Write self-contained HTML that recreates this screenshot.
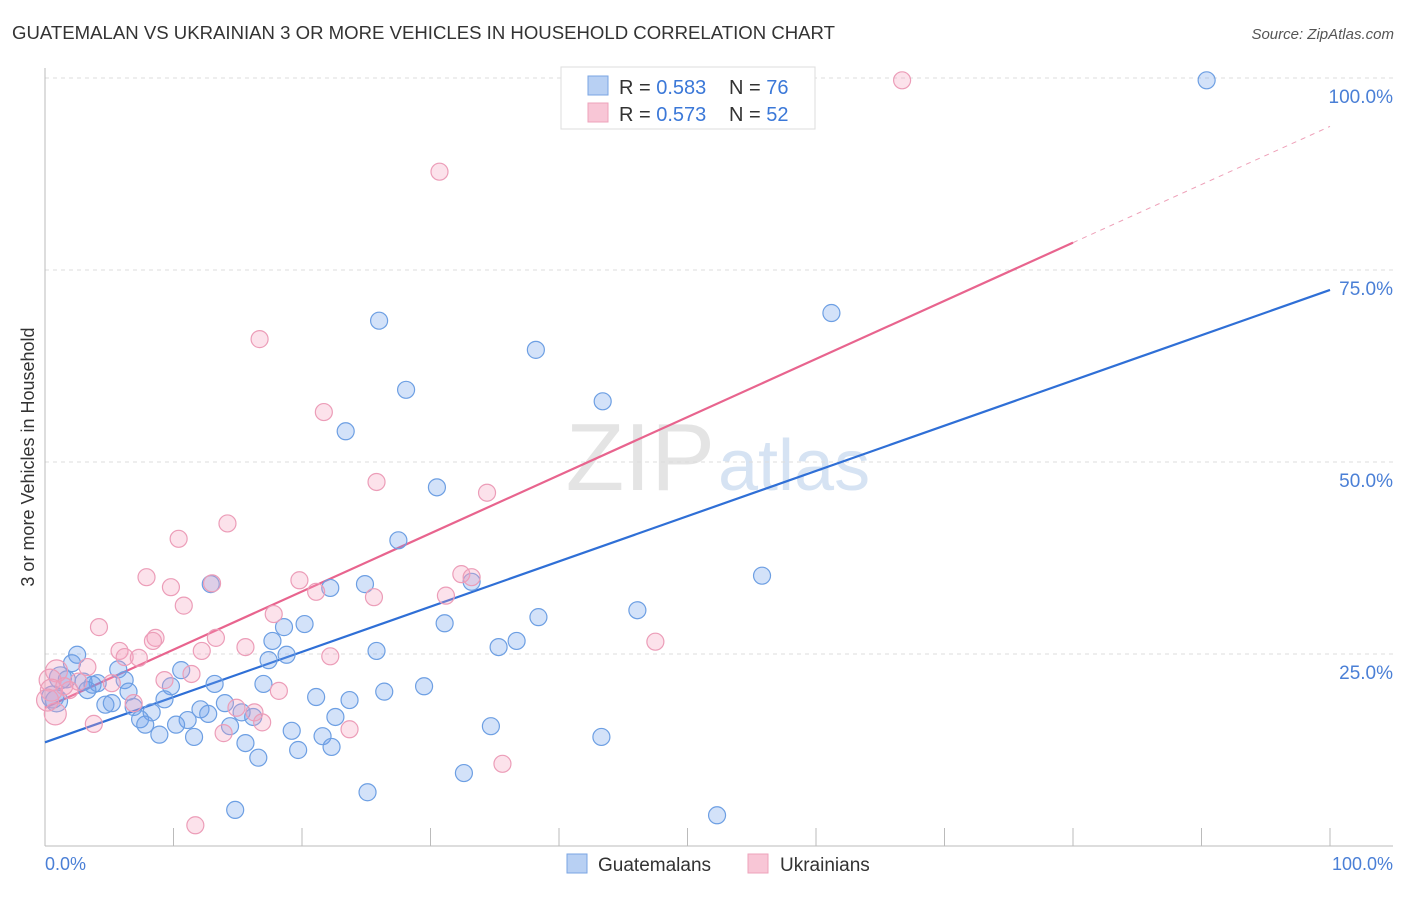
<!DOCTYPE html>
<html><head><meta charset="utf-8"><style>
body{margin:0;background:#fff;font-family:"Liberation Sans",sans-serif;}
svg text{font-family:"Liberation Sans",sans-serif;}
</style></head><body>
<svg id="chart" width="1406" height="892" xmlns="http://www.w3.org/2000/svg">
<text x="12" y="39" font-size="18" fill="#333" textLength="823" lengthAdjust="spacingAndGlyphs">GUATEMALAN VS UKRAINIAN 3 OR MORE VEHICLES IN HOUSEHOLD CORRELATION CHART</text>
<text x="1394" y="39" font-size="15" fill="#555" text-anchor="end" font-style="italic">Source: ZipAtlas.com</text>
<text x="715" y="490" font-size="96" fill="#e4e4e4" text-anchor="end" font-family="Liberation Serif">ZIP</text>
<text x="718" y="490" font-size="72" fill="#d6e3f3">atlas</text>
<text transform="translate(34,457) rotate(-90)" font-size="18" fill="#333" text-anchor="middle">3 or more Vehicles in Household</text>
<g id="grid"></g><g id="ticks"></g><g id="lines"></g><g id="pts"></g>
<g>
<rect x="561" y="67" width="254" height="62" fill="#fff" stroke="#ddd"/>
<rect x="588" y="76" width="20" height="19" fill="#b8d0f3" stroke="#7aa5e3"/>
<rect x="588" y="103" width="20" height="19" fill="#f8c6d6" stroke="#eea3bb"/>
<text x="619" y="94" font-size="20" fill="#333">R = <tspan fill="#3b78d8">0.583</tspan></text>
<text x="729" y="94" font-size="20" fill="#333">N = <tspan fill="#3b78d8">76</tspan></text>
<text x="619" y="121" font-size="20" fill="#333">R = <tspan fill="#3b78d8">0.573</tspan></text>
<text x="729" y="121" font-size="20" fill="#333">N = <tspan fill="#3b78d8">52</tspan></text>
</g>
<g>
<rect x="567" y="854" width="20" height="19" fill="#b8d0f3" stroke="#7aa5e3"/>
<text x="598" y="871" font-size="19" fill="#333">Guatemalans</text>
<rect x="748" y="854" width="20" height="19" fill="#f8c6d6" stroke="#eea3bb"/>
<text x="780" y="871" font-size="19" fill="#333">Ukrainians</text>
</g>
<text x="45" y="870" font-size="18" fill="#4a7fd6">0.0%</text>
<text x="1393" y="870" font-size="18" fill="#4a7fd6" text-anchor="end">100.0%</text>
</svg>
<script>
const yTicks=[25,50,75,100];
const yTickLabels=["25.0%","50.0%","75.0%","100.0%"];
const blueX=[90.4,26.0,38.2,28.1,43.4,23.4,30.5,61.2,27.5,55.8,12.9,24.9,22.2,33.2,46.1,38.4,31.1,20.2,18.6,36.7,35.3,17.7,25.8,18.8,17.4,2.5,2.1,5.7,10.6,1.2,1.7,4.1,6.2,9.8,13.2,29.5,26.4,17.0,6.5,9.3,14.0,21.1,23.7,0.6,4.7,5.2,6.9,12.1,8.3,12.7,15.3,16.2,7.4,22.6,7.8,11.1,10.2,14.4,19.2,34.7,8.9,11.6,21.6,43.3,15.6,19.7,22.3,16.6,32.6,25.1,14.8,52.3,3.0,3.7,3.3,0.9];
const blueY=[99.7,68.4,64.6,59.4,57.9,54.0,46.7,69.4,39.8,35.2,34.1,34.1,33.6,34.4,30.7,29.8,29.0,28.9,28.5,26.7,25.9,26.7,25.4,24.9,24.2,24.9,23.8,23.0,22.9,21.9,21.7,21.2,21.6,20.8,21.1,20.8,20.1,21.1,20.1,19.1,18.6,19.4,19.0,19.4,18.4,18.6,18.1,17.8,17.4,17.2,17.4,16.8,16.5,16.8,15.8,16.4,15.8,15.6,15.0,15.6,14.5,14.2,14.3,14.2,13.4,12.5,12.9,11.5,9.5,7.0,4.7,4.0,21.4,21.0,20.3,18.9];
const pinkX=[66.7,30.7,16.7,21.7,25.8,34.4,14.2,10.4,7.9,9.8,13.0,10.8,19.8,21.1,32.4,33.2,25.6,31.2,17.8,4.2,8.6,8.4,13.3,15.6,5.8,12.2,6.2,7.3,22.2,47.5,3.3,0.9,2.6,9.3,11.4,0.4,5.2,18.2,6.9,16.3,14.9,16.9,3.8,23.7,13.9,35.6,11.7,0.8,0.5,1.9,1.5,0.2];
const pinkY=[99.7,87.8,66.0,56.5,47.4,46.0,42.0,40.0,35.0,33.7,34.2,31.3,34.6,33.1,35.4,35.0,32.4,32.6,30.2,28.5,27.1,26.7,27.1,25.9,25.4,25.4,24.6,24.5,24.7,26.6,23.3,22.8,21.4,21.6,22.4,21.6,21.2,20.2,18.6,17.4,18.0,16.1,15.9,15.2,14.7,10.7,2.7,17.2,20.3,20.3,20.8,19.0];
const blueFit=[13.5,72.4];
const pinkFit=[18.0,93.7];
const pinkSolidEnd=80;
const NS="http://www.w3.org/2000/svg";
const X=v=>45+v*12.85, Y=v=>846-v*7.68;
function mk(t,a,p){const e=document.createElementNS(NS,t);for(const k in a)e.setAttribute(k,a[k]);p.appendChild(e);return e;}
const grid=document.getElementById('grid'),ticks=document.getElementById('ticks'),lines=document.getElementById('lines'),pts=document.getElementById('pts');
yTicks.forEach((t,i)=>{
 const l=mk('line',{x1:45,x2:1393,y1:Y(t),y2:Y(t),stroke:'#ddd','stroke-dasharray':'4,4'},grid);
 
 
 const tx=mk('text',{x:1393,y:Y(t)+25,'font-size':19,fill:'#4a7fd6','text-anchor':'end'},grid);
 tx.textContent=yTickLabels[i];
 
 
});
const ax=mk('line',{x1:45,x2:45,y1:68,y2:846,stroke:'#bbb'},ticks);


const bx=mk('line',{x1:45,x2:1393,y1:846,y2:846,stroke:'#bbb'},ticks);


for(let i=0;i<=10;i++){const t=mk('line',{x1:X(i*10),x2:X(i*10),y1:828,y2:846,stroke:'#bbb'},ticks);
 
 }
function dots(xs,ys,fill,stroke,name){xs.forEach((x,i)=>{const c=mk('circle',{cx:X(x),cy:Y(ys[i]),r:(x<1.5?11:8.5),fill:fill,stroke:stroke,'stroke-width':1.2},pts);
 
 });}
dots(blueX,blueY,'rgba(110,160,235,0.3)','#6d9fe3','guatemalan-point');
dots(pinkX,pinkY,'rgba(245,160,190,0.3)','#ec9db8','ukrainian-point');
const bl=mk('line',{x1:X(0),y1:Y(blueFit[0]),x2:X(100),y2:Y(blueFit[1]),stroke:'#2f6fd6','stroke-width':2.2},lines);


const pe=pinkFit[0]+(pinkFit[1]-pinkFit[0])*pinkSolidEnd/100;
const pl=mk('line',{x1:X(0),y1:Y(pinkFit[0]),x2:X(pinkSolidEnd),y2:Y(pe),stroke:'#e8648e','stroke-width':2.2},lines);


const pd=mk('line',{x1:X(pinkSolidEnd),y1:Y(pe),x2:X(100),y2:Y(pinkFit[1]),stroke:'#eea0b8','stroke-width':1,'stroke-dasharray':'5,5'},lines);


</script>
</body></html>
